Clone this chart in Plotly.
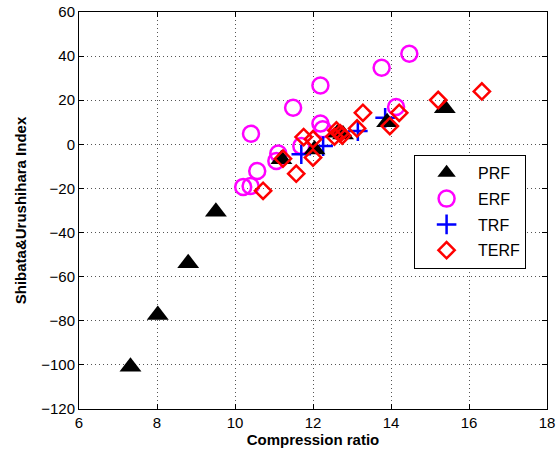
import plotly.graph_objects as go

prf_x = [7.32, 8.02, 8.80, 9.51, 11.19, 12.04, 12.64, 12.77, 13.90, 15.38]
prf_y = [-100.8, -77.4, -53.9, -30.6, -6.8, -2.3, 5.3, 4.5, 10.0, 16.4]

erf_x = [10.21, 10.40, 10.57, 10.41, 11.06, 11.11, 11.49, 11.70, 12.19, 12.19, 12.25, 13.76, 14.47, 14.13]
erf_y = [-19.3, -18.9, -12.1, 4.8, -7.5, -4.2, 16.6, -0.8, 26.7, 9.4, 6.8, 34.7, 41.1, 16.9]

trf_x = [11.70, 12.26, 13.15, 13.85]
trf_y = [-4.5, -0.8, 6.0, 12.0]

terf_x = [10.72, 11.23, 11.57, 11.76, 12.00, 12.00, 12.55, 12.60, 12.70, 12.75, 13.13, 13.28, 13.97, 14.21, 15.21, 16.33]
terf_y = [-21.1, -6.5, -13.3, 3.3, 2.3, -6.0, 3.5, 6.3, 5.0, 4.0, 7.2, 14.3, 8.3, 14.3, 20.1, 24.0]

x_ticks = [6, 8, 10, 12, 14, 16, 18]
y_ticks = [60, 40, 20, 0, -20, -40, -60, -80, -100, -120]

FONT = "Liberation Sans, Arial, Helvetica, sans-serif"

fig = go.Figure()
fig.add_trace(go.Scatter(x=erf_x, y=erf_y, mode="markers", name="ERF", legendrank=2, legendgroup="b",
                         marker=dict(symbol="circle-open", size=16, color="#ff00ff", line=dict(width=2.5, color="#ff00ff"))))
fig.add_trace(go.Scatter(x=trf_x, y=trf_y, mode="markers", name="TRF", legendrank=3, legendgroup="c",
                         marker=dict(symbol="cross-thin-open", size=14, color="#0000ff", line=dict(width=2.5, color="#0000ff"))))
fig.add_trace(go.Scatter(x=prf_x, y=prf_y, mode="markers", name="PRF", legendrank=1, legendgroup="a",
                         marker=dict(symbol="triangle-up", size=19, color="black", line=dict(width=0))))
fig.add_trace(go.Scatter(x=terf_x, y=terf_y, mode="markers", name="TERF", legendrank=4, legendgroup="d",
                         marker=dict(symbol="diamond-open", size=12.5, color="#ff0000", line=dict(width=2.5, color="#ff0000"))))

axis_common = dict(
    showline=True, linecolor="black", linewidth=1, mirror="ticks",
    ticks="inside", ticklen=5, tickcolor="black",
    showgrid=True, gridcolor="#555555", griddash="1px,3px", gridwidth=1,
    zeroline=False, automargin=False,
    tickfont=dict(family=FONT, size=15, color="black"),
)

fig.update_xaxes(range=[6, 18], tickvals=x_ticks, ticktext=[str(v) for v in x_ticks],
                 title=dict(text="<b>Compression ratio</b>", standoff=4,
                            font=dict(family=FONT, size=15, color="black")),
                 **axis_common)
fig.update_yaxes(range=[-120, 60], tickvals=y_ticks,
                 ticktext=[str(v).replace("-", "\u2212") for v in y_ticks],
                 title=dict(text="<b>Shibata&Urushihara Index</b>", standoff=10,
                            font=dict(family=FONT, size=15, color="black")),
                 **axis_common)

fig.update_layout(
    width=556, height=455,
    margin=dict(l=79, r=9, t=12, b=46),
    plot_bgcolor="white", paper_bgcolor="white",
    showlegend=True,
    legend=dict(x=0.716, y=0.64, xanchor="left", yanchor="top",
                bgcolor="white", bordercolor="black", borderwidth=1,
                font=dict(family=FONT, size=16, color="black"),
                itemsizing="trace", itemwidth=53, tracegroupgap=2),
)

fig.write_html("out.html", config={"displayModeBar": False},
               post_script="document.body.style.margin='0';document.body.style.overflow='hidden';")
